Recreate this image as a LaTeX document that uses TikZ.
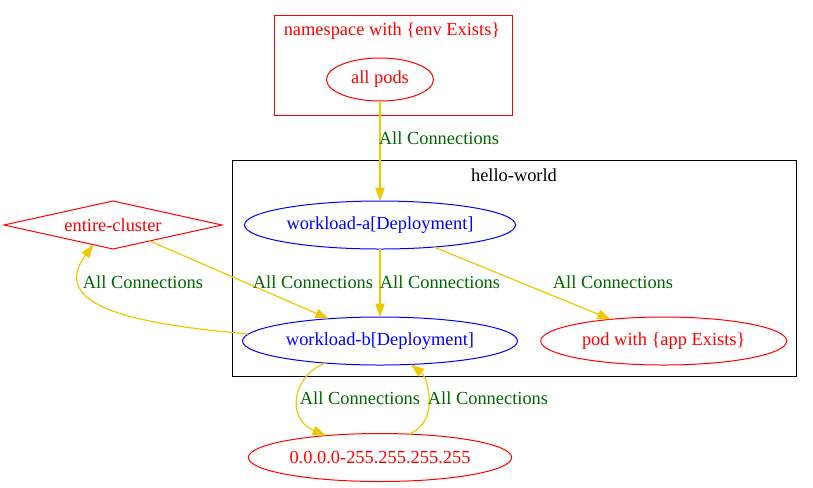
\documentclass[tikz,border=0pt]{standalone}
\usepackage{fontspec}
\setmainfont{Liberation Serif}
\usetikzlibrary{shapes.geometric,arrows.meta}
\definecolor{edgeyellow}{HTML}{EEC900}
\definecolor{lblgreen}{HTML}{006400}
\definecolor{nred}{HTML}{FF0000}
\definecolor{nblue}{HTML}{0000FF}
\tikzset{
  every node/.style={font=\fontsize{13.8}{16}\selectfont, inner sep=0pt, outer sep=0pt},
  redell/.style={ellipse, draw=nred, text=nred, line width=0.75pt, minimum height=36pt},
  blueell/.style={ellipse, draw=nblue, text=nblue, line width=0.75pt, minimum height=36pt},
  reddia/.style={diamond, draw=nred, text=nred, line width=0.75pt, shape aspect=4.5},
  clusterbox/.style={draw, line width=0.75pt},
  edge/.style={draw=edgeyellow, line width=0.9pt, -{Triangle[length=10pt,width=7pt]}},
  lbl/.style={text=lblgreen},
}
\begin{document}
\begin{tikzpicture}[x=0.75pt,y=-0.75pt]
\useasboundingbox (0,0) rectangle (813,487);
% clusters
\draw[clusterbox, draw=nred] (274.5,15) rectangle (512.5,115.5);
\node[text=nred] (nslbl) at (392,31) {namespace with \{env Exists\}};
\draw[clusterbox] (232,160) rectangle (796.5,376);
\node (hwlbl) at (514,175) {hello-world};
% nodes
\node[redell, minimum width=80.25pt, minimum height=32.25pt] (ap) at (380,79.5) {all pods};
\node[blueell, minimum width=203.25pt] (wa) at (380,225) {workload-a[Deployment]};
\node[blueell, minimum width=206.25pt] (wb) at (380,341) {workload-b[Deployment]};
\node[redell, minimum width=184.5pt] (pod) at (663.7,341) {pod with \{app Exists\}};
\node[reddia, minimum width=163.5pt, minimum height=36pt] (ec) at (113,225) {entire-cluster};
\node[redell, minimum width=197.5pt] (ip) at (380,457.5) {0.0.0.0-255.255.255.255};
% edges
\draw[edge] (ap) -- (wa);
\draw[edge] (wa) -- (wb);
\draw[edge] (wa) -- (pod);
\draw[edge] (ec) -- (wb);
\draw[edge] (wb.177.4) .. controls (150,325) and (45,310) .. (ec.225);
\draw[edge] (wb.202.3) .. controls (293,375) and (285,418) .. (ip.158);
\draw[edge] (ip.39) .. controls (440,422) and (428,378) .. (wb.323.8);
% labels
\node[lbl] (l1) at (439,138) {All Connections};
\node[lbl] (l2) at (440,282) {All Connections};
\node[lbl] (l3) at (613,282) {All Connections};
\node[lbl] (l4) at (313,282) {All Connections};
\node[lbl] (l5) at (143,282) {All Connections};
\node[lbl] (l6) at (360,398) {All Connections};
\node[lbl] (l7) at (488,398) {All Connections};
\end{tikzpicture}
\end{document}
